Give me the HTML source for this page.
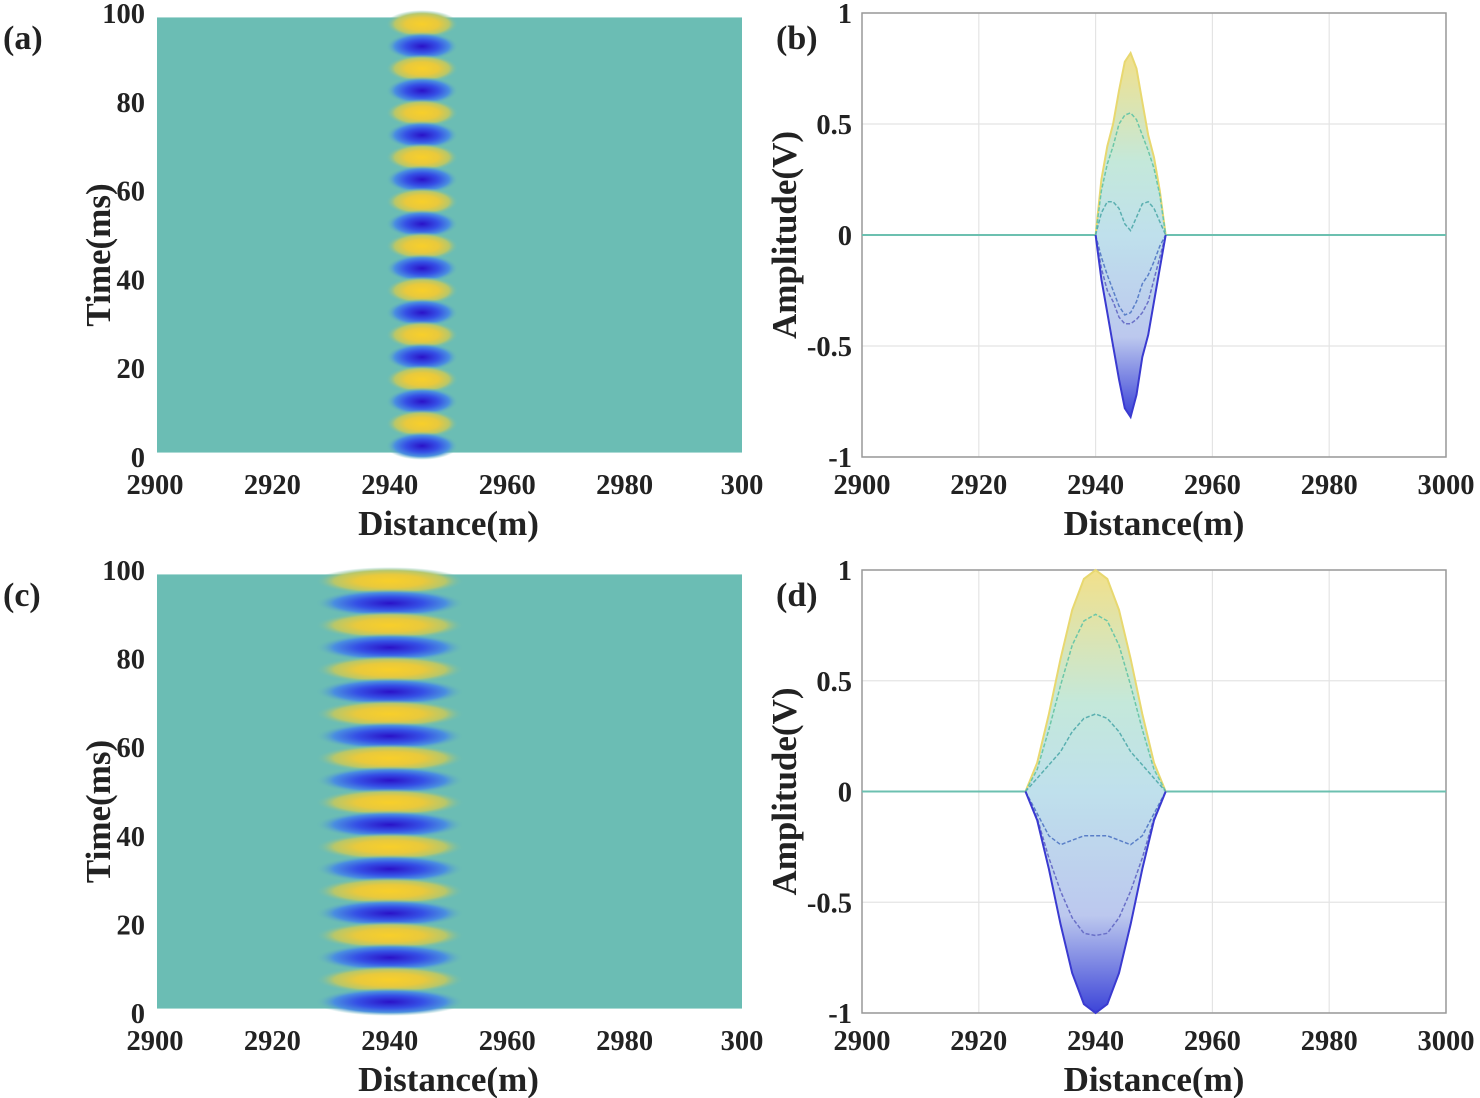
<!DOCTYPE html>
<html><head><meta charset="utf-8"><style>
html,body{margin:0;padding:0;background:#fff;}
svg{display:block;}
text{font-family:"Liberation Serif",serif;font-weight:bold;fill:#222;}
</style></head><body>
<svg id="fig" width="1480" height="1098" viewBox="0 0 1480 1098" xmlns="http://www.w3.org/2000/svg">
<defs>
<radialGradient id="gy" cx="50%" cy="50%" r="50%">
<stop offset="0" stop-color="#f8cf2a"/><stop offset="0.45" stop-color="#e9c93c"/><stop offset="0.75" stop-color="#b8c76a"/><stop offset="1" stop-color="#6bbdb4" stop-opacity="0"/>
</radialGradient>
<radialGradient id="gb" cx="50%" cy="50%" r="50%">
<stop offset="0" stop-color="#2a12c8"/><stop offset="0.45" stop-color="#3550e6"/><stop offset="0.75" stop-color="#4a8ee0"/><stop offset="1" stop-color="#6bbdb4" stop-opacity="0"/>
</radialGradient>
<linearGradient id="envb" x1="0" y1="0" x2="0" y2="1">
<stop offset="0" stop-color="#f2e08a"/><stop offset="0.3" stop-color="#c4e8da"/><stop offset="0.5" stop-color="#bfe0ec"/><stop offset="0.78" stop-color="#bcc8ee"/><stop offset="1" stop-color="#3c44d8"/>
</linearGradient>
</defs>
</svg>
<script>
// ---------- data ----------
var stripeTimes = [97.5,92.5,87.5,82.5,77.5,72.5,67.5,62.5,57.5,52.5,47.5,42.5,37.5,32.5,27.5,22.5,17.5,12.5,7.5,2.5];
var stripeSigns = [1,-1,1,-1,1,-1,1,-1,1,-1,1,-1,1,-1,1,-1,1,-1,1,-1];
var bandA = [2940, 2951];
var bandC = [2928, 2952];
var xTicks = [2900,2920,2940,2960,2980,3000];
var xTickLabelsHeat = ["2900","2920","2940","2960","2980","300"];
var xTickLabelsLine = ["2900","2920","2940","2960","2980","3000"];
var tTicks = [0,20,40,60,80,100];
var aTicks = [-1,-0.5,0,0.5,1];
var aTickLabels = ["-1","-0.5","0","0.5","1"];

var distB = [2940,2941,2942,2943,2944,2945,2946,2947,2948,2949,2950,2951,2952];
var b1 = [0,0.25,0.4,0.5,0.65,0.78,0.82,0.75,0.6,0.45,0.35,0.2,0];
var b2 = [0,0.2,0.32,0.4,0.5,0.54,0.55,0.52,0.45,0.38,0.3,0.18,0];
var b3 = [0,0.1,0.15,0.15,0.12,0.05,0.02,0.08,0.14,0.15,0.12,0.06,0];
var b4 = [0,-0.1,-0.18,-0.25,-0.32,-0.36,-0.35,-0.3,-0.22,-0.18,-0.12,-0.05,0];
var b5 = [0,-0.15,-0.25,-0.3,-0.37,-0.4,-0.4,-0.38,-0.35,-0.3,-0.2,-0.1,0];
var b6 = [0,-0.2,-0.35,-0.5,-0.65,-0.78,-0.82,-0.72,-0.55,-0.45,-0.3,-0.15,0];

var distD = [2928,2930,2932,2934,2936,2938,2940,2942,2944,2946,2948,2950,2952];
var d1 = [0,0.13,0.35,0.6,0.82,0.96,1.0,0.96,0.82,0.6,0.35,0.13,0];
var d2 = [0,0.1,0.28,0.48,0.66,0.77,0.8,0.77,0.66,0.48,0.28,0.1,0];
var d3 = [0,0.06,0.12,0.18,0.27,0.33,0.35,0.33,0.27,0.18,0.12,0.06,0];
var d4 = [0,-0.1,-0.2,-0.24,-0.22,-0.2,-0.2,-0.2,-0.22,-0.24,-0.2,-0.1,0];
var d5 = [0,-0.12,-0.3,-0.45,-0.57,-0.64,-0.65,-0.64,-0.57,-0.45,-0.3,-0.12,0];
var d6 = [0,-0.13,-0.35,-0.6,-0.82,-0.96,-1.0,-0.96,-0.82,-0.6,-0.35,-0.13,0];

// ---------- helpers ----------
var NS = "http://www.w3.org/2000/svg";
var svg = document.getElementById("fig");
function mk(tag, attrs, parent){
  var e = document.createElementNS(NS, tag);
  for (var k in attrs) e.setAttribute(k, attrs[k]);
  (parent||svg).appendChild(e);
  return e;
}
function txt(s, x, y, size, anchor, parent){
  var t = mk("text", {x:x, y:y, "font-size":size, "text-anchor":anchor||"middle"}, parent);
  t.textContent = s;
  return t;
}
function linScale(d0,d1,r0,r1){ return function(v){ return r0 + (v-d0)/(d1-d0)*(r1-r0); }; }

var TICK = 28.5, TITLE = 35;

function heatPanel(label, L, R, T, B, band, name){
  var g = mk("g", {});
  
  
  var sx = linScale(2900, 3000, L, R);
  var sy = linScale(0, 100, B, T);
  var bg = mk("rect", {x:L+2, y:sy(99), width:R-L-2, height:sy(1)-sy(99), fill:"#6bbdb4"}, g);
  
  
  var cx = (sx(band[0]) + sx(band[1]))/2;
  var rx = (sx(band[1]) - sx(band[0]))/2 + 4;
  for (var i=0;i<stripeTimes.length;i++){
    var e = mk("ellipse", {cx:cx, cy:sy(stripeTimes[i]), rx:rx, ry:14, fill: stripeSigns[i]>0 ? "url(#gy)" : "url(#gb)"}, g);
    
    
  }
  for (var i=0;i<xTicks.length;i++){
    var t = txt(xTickLabelsHeat[i], sx(xTicks[i]), B+37, TICK, "middle", g);
    
    
  }
  for (var i=0;i<tTicks.length;i++){
    var t = txt(String(tTicks[i]), L-10, sy(tTicks[i])+10, TICK, "end", g);
    
    
  }
  var xl = txt("Distance(m)", (L+R)/2, B+78, TITLE, "middle", g);
  
  
  var yl = txt("Time(ms)", 0, 0, TITLE, "middle", g);
  yl.setAttribute("transform", "translate(110,"+((T+B)/2+20)+") rotate(-90)");
  
  
  var pl = txt(label, 3, T+36, 34, "start", g);
  
  
}

function pathOf(xs, ys, sx, sy){
  var s = "";
  for (var i=0;i<xs.length;i++) s += (i?"L":"M") + sx(xs[i]).toFixed(1) + "," + sy(ys[i]).toFixed(1);
  return s;
}

function linePanel(label, L, R, T, B, xs, curves, name){
  var g = mk("g", {});
  
  
  var sx = linScale(2900, 3000, L, R);
  var sy = linScale(-1, 1, B, T);
  for (var i=0;i<xTicks.length;i++){
    var gl = mk("line", {x1:sx(xTicks[i]), x2:sx(xTicks[i]), y1:T, y2:B, stroke:"#e4e4e4", "stroke-width":1.2}, g);
    
    
  }
  for (var i=0;i<aTicks.length;i++){
    var gl = mk("line", {x1:L, x2:R, y1:sy(aTicks[i]), y2:sy(aTicks[i]), stroke:"#e4e4e4", "stroke-width":1.2}, g);
    
    
  }
  var box = mk("rect", {x:L, y:T, width:R-L, height:B-T, fill:"none", stroke:"#999", "stroke-width":1.5}, g);
  
  
  var base = mk("line", {x1:L, x2:R, y1:sy(0), y2:sy(0), stroke:"#6cc0b0", "stroke-width":2}, g);
  
  
  var top = curves[0], bot = curves[curves.length-1];
  var d = pathOf(xs, top, sx, sy);
  for (var i=xs.length-1;i>=0;i--) d += "L" + sx(xs[i]).toFixed(1) + "," + sy(bot[i]).toFixed(1);
  var env = mk("path", {d:d+"Z", fill:"url(#envb)", stroke:"none"}, g);
  
  
  var cols = ["#e8d870","#6cc7a8","#5aafb0","#5a7fc8","#6a70c8","#3a3ad0"];
  for (var c=0;c<curves.length;c++){
    var p = mk("path", {d:pathOf(xs, curves[c], sx, sy), fill:"none", stroke:cols[c], "stroke-width": (c==0||c==curves.length-1)?2:1.5, "stroke-dasharray": (c==0||c==curves.length-1)?"none":"4,2"}, g);
    
    
  }
  for (var i=0;i<xTicks.length;i++){
    var t = txt(xTickLabelsLine[i], sx(xTicks[i]), B+37, TICK, "middle", g);
    
    
  }
  for (var i=0;i<aTicks.length;i++){
    var t = txt(aTickLabels[i], L-10, sy(aTicks[i])+10, TICK, "end", g);
    
    
  }
  var xl = txt("Distance(m)", (L+R)/2, B+78, TITLE, "middle", g);
  
  
  var yl = txt("Amplitude(V)", 0, 0, TITLE, "middle", g);
  yl.setAttribute("transform", "translate(796,"+((T+B)/2)+") rotate(-90)");
  
  
  var pl = txt(label, 776, T+36, 34, "start", g);
  
  
}

heatPanel("(a)", 155, 742, 13, 457, bandA, "panel-a-heatmap");
heatPanel("(c)", 155, 742, 570, 1013, bandC, "panel-c-heatmap");
linePanel("(b)", 862, 1446, 13, 457, distB, [b1,b2,b3,b4,b5,b6], "panel-b-amplitude");
linePanel("(d)", 862, 1446, 570, 1013, distD, [d1,d2,d3,d4,d5,d6], "panel-d-amplitude");
</script>
</body></html>
